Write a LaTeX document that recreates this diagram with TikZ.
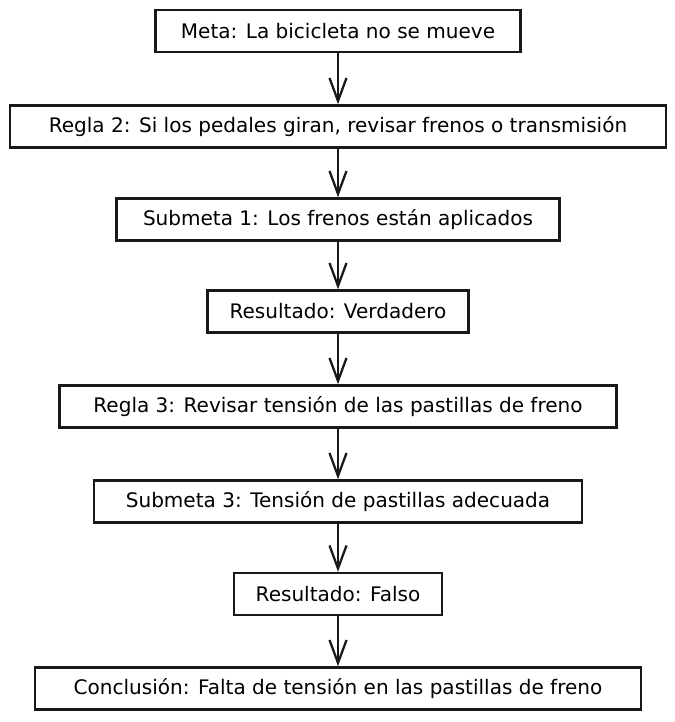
\documentclass[tikz,border=0pt]{standalone}
\usepackage{fontspec}
\setmainfont{DejaVu Sans}
\usetikzlibrary{arrows.meta}

\begin{document}
\begin{tikzpicture}[
  x=0.02cm, y=-0.02cm,
  every node/.style={font=\fontsize{11.4}{13}\selectfont},
  stepbox/.style={draw=black!90,line width=1.4pt,minimum width=#1,minimum height=0.84cm,inner sep=0pt,align=center},
  arrow/.style={-{Straight Barb[length=4.6mm,width=3.4mm,line width=1.3pt]},line width=1.3pt,draw=black!90}
]
  \useasboundingbox (0,0) rectangle (674,722);
  \node[stepbox=7.3cm]   (meta)  at (338,31)    {Meta: La bicicleta no se mueve};
  \node[stepbox=13.12cm] (r2)    at (338,126.5) {Regla 2: Si los pedales giran, revisar frenos o transmisión};
  \node[stepbox=8.86cm]  (s1)    at (338,219.5) {Submeta 1: Los frenos están aplicados};
  \node[stepbox=5.22cm]  (res1)  at (338,311.5) {Resultado: Verdadero};
  \node[stepbox=11.14cm] (r3)    at (338,406.5) {Regla 3: Revisar tensión de las pastillas de freno};
  \node[stepbox=9.76cm]  (s3)    at (338,501.5) {Submeta 3: Tensión de pastillas adecuada};
  \node[stepbox=4.16cm]  (res2)  at (338,594)   {Resultado: Falso};
  \node[stepbox=12.12cm] (concl) at (338,688.5) {Conclusión: Falta de tensión en las pastillas de freno};

  \draw[arrow] (meta) -- (r2);
  \draw[arrow] (r2) -- (s1);
  \draw[arrow] (s1) -- (res1);
  \draw[arrow] (res1) -- (r3);
  \draw[arrow] (r3) -- (s3);
  \draw[arrow] (s3) -- (res2);
  \draw[arrow] (res2) -- (concl);
\end{tikzpicture}
\end{document}
